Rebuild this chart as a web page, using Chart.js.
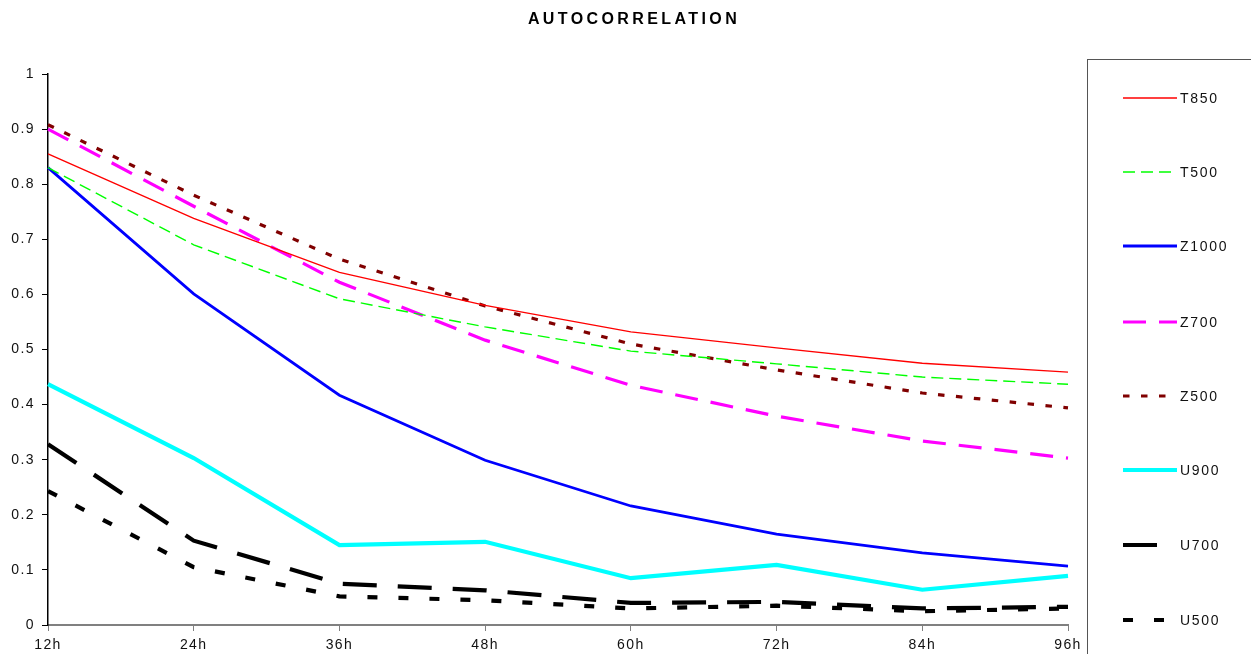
<!DOCTYPE html>
<html>
<head>
<meta charset="utf-8">
<script src="https://cdn.jsdelivr.net/npm/chart.js@4/dist/chart.umd.min.js"></script>
<style>
  html, body { margin: 0; padding: 0; background: #fff; }
  #wrap { width: 1251px; height: 654px; position: relative; }
</style>
</head>
<body>
<div id="wrap"><canvas id="acChart"></canvas></div>
<script>
// ---- data ----
const leadTimes = ['12h', '24h', '36h', '48h', '60h', '72h', '84h', '96h'];

const t850  = [0.855, 0.738, 0.640, 0.580, 0.532, 0.503, 0.475, 0.459];
const t500  = [0.830, 0.690, 0.592, 0.541, 0.497, 0.474, 0.450, 0.437];
const z1000 = [0.830, 0.601, 0.417, 0.299, 0.216, 0.165, 0.131, 0.107];
const z700  = [0.900, 0.760, 0.622, 0.517, 0.435, 0.379, 0.334, 0.303];
const z500  = [0.908, 0.780, 0.664, 0.579, 0.510, 0.463, 0.421, 0.394];
const u900  = [0.437, 0.303, 0.145, 0.151, 0.085, 0.109, 0.064, 0.089];
const u700  = [0.328, 0.153, 0.075, 0.063, 0.040, 0.042, 0.030, 0.033];
const u500  = [0.243, 0.105, 0.052, 0.045, 0.030, 0.035, 0.025, 0.030];

const seriesNames = ['T850', 'T500', 'Z1000', 'Z700', 'Z500', 'U900', 'U700', 'U500'];
const yTicks = [0, 0.1, 0.2, 0.3, 0.4, 0.5, 0.6, 0.7, 0.8, 0.9, 1];

const FONT = "'Liberation Sans', Arial, sans-serif";

function line(label, data, color, width, dash) {
    return {
        label, data,
        borderColor: color,
        backgroundColor: color,
        borderWidth: width,
        borderDash: dash,
        pointRadius: 0,
        tension: 0,
        fill: false
    };
}

const datasets = [
    line(seriesNames[0], t850,  '#ff0000', 1.4, []),
    line(seriesNames[1], t500,  '#00ff00', 1.4, [12, 6]),
    line(seriesNames[2], z1000, '#0000ff', 2.8, []),
    line(seriesNames[3], z700,  '#ff00ff', 3.2, [23, 13]),
    line(seriesNames[4], z500,  '#800000', 3.2, [6.5, 11.5]),
    line(seriesNames[5], u900,  '#00ffff', 4.2, []),
    line(seriesNames[6], u700,  '#000000', 4.2, [34, 21]),
    line(seriesNames[7], u500,  '#000000', 4.2, [10, 21])
];

// title + boxed legend on the right, drawn by hand like the original sheet
const decorations = {
    id: 'decorations',
    beforeDraw(chart) {
        // the sheet renders axis text slightly spaced out
        chart.ctx.letterSpacing = '1.4px';
    },
    afterDraw(chart) {
        const ctx = chart.ctx;
        ctx.save();
        // title
        ctx.fillStyle = '#000';
        ctx.font = 'bold 16px ' + FONT;
        ctx.letterSpacing = '3.4px';
        ctx.textAlign = 'center';
        ctx.textBaseline = 'middle';
        ctx.fillText('AUTOCORRELATION', 634, 20);

        // legend frame
        ctx.letterSpacing = '0px';
        ctx.strokeStyle = '#555';
        ctx.lineWidth = 1;
        ctx.strokeRect(1087.5, 59.5, 200, 640);

        const rowY = [98, 172, 246, 322, 396, 470, 545, 620];
        chart.data.datasets.forEach((ds, i) => {
            const y = rowY[i];
            ctx.strokeStyle = ds.borderColor;
            ctx.lineWidth = ds.borderWidth;
            ctx.setLineDash(ds.borderDash);
            ctx.beginPath();
            ctx.moveTo(1123, y);
            ctx.lineTo(1177, y);
            ctx.stroke();
            ctx.setLineDash([]);
            ctx.fillStyle = '#111';
            ctx.font = '14px ' + FONT;
            ctx.letterSpacing = '1.7px';
            ctx.textAlign = 'left';
            ctx.fillText(ds.label, 1180, y + 1);
        });
        ctx.restore();
    }
};

new Chart(document.getElementById('acChart'), {
    type: 'line',
    data: { labels: leadTimes, datasets },
    plugins: [decorations],
    options: {
        responsive: true,
        maintainAspectRatio: false,
        animation: false,
        layout: { padding: { top: 74, right: 183, left: 0, bottom: 0 } },
        plugins: {
            legend: { display: false },
            title: { display: false },
            tooltip: { enabled: false }
        },
        scales: {
            x: {
                offset: false,
                grid: { drawOnChartArea: false, drawTicks: true, tickLength: 6, color: '#808080' },
                border: { color: '#808080', width: 2 },
                ticks: { color: '#111', font: { family: FONT, size: 14 }, padding: 6, maxRotation: 0 },
                afterFit: s => { s.height = 29; }
            },
            y: {
                min: 0, max: 1,
                afterBuildTicks: s => { s.ticks = yTicks.map(v => ({ value: v })); },
                grid: { drawOnChartArea: false, drawTicks: true, tickLength: 6, color: '#000' },
                border: { color: '#000', width: 1.5 },
                ticks: {
                    color: '#111', font: { family: FONT, size: 14 }, padding: 7,
                    callback: v => String(Math.round(v * 10) / 10)
                },
                afterFit: s => { s.width = 48; }
            }
        }
    }
});
</script>
</body>
</html>
